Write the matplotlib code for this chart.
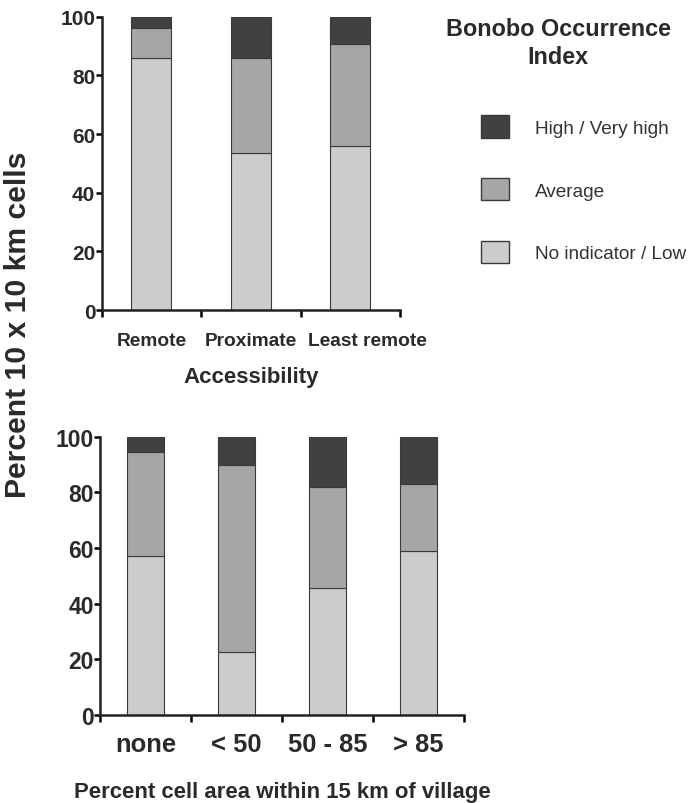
import matplotlib
matplotlib.use("Agg")
import matplotlib.pyplot as plt
import matplotlib.transforms as mtransforms
from matplotlib.patches import Patch
import numpy as np

plt.rcParams['font.family'] = ['Liberation Sans', 'DejaVu Sans']

# top panel: accessibility
access_cats = ["Remote", "Proximate", "Least remote"]
access_low = [86.0, 53.5, 55.8]
access_avg = [10.2, 32.3, 35.0]
access_high = [3.8, 14.2, 9.2]

# bottom panel: village cover
village_cats = ["none", "< 50", "50 - 85", "> 85"]
village_low = [57.2, 22.5, 45.5, 59.0]
village_avg = [37.2, 67.4, 36.3, 24.1]
village_high = [5.6, 10.1, 18.2, 16.9]

legend_labels = ["High / Very high", "Average", "No indicator / Low"]

c_low = "#cbcccd"
c_avg = "#a5a6a8"
c_high = "#404242"
edge = "#3a3a3a"
txt = "#2a2a2a"


def stacked(ax, cats, low, avg, high, width, tick_fs, label_fs, pad):
    x = np.arange(len(cats))
    low = np.array(low)
    avg = np.array(avg)
    high = np.array(high)
    ax.bar(x, low, width, color=c_low, edgecolor=edge, linewidth=0.8)
    ax.bar(x, avg, width, bottom=low, color=c_avg, edgecolor=edge, linewidth=0.8)
    ax.bar(x, high, width, bottom=low + avg, color=c_high, edgecolor=edge, linewidth=0.8)
    ax.set_xlim(-0.5, len(cats) - 0.5)
    ax.set_ylim(0, 100)
    ax.set_yticks([0, 20, 40, 60, 80, 100])
    ax.set_xticks(x)
    ax.set_xticklabels(cats, fontsize=label_fs, fontweight='bold', color=txt)
    ax.set_xticks(np.arange(len(cats) + 1) - 0.5, minor=True)
    ax.tick_params(axis='x', which='major', length=0, pad=pad)
    ax.tick_params(axis='x', which='minor', length=5, width=1.8, direction='out')
    ax.tick_params(axis='y', length=4, width=1.8, labelsize=tick_fs, pad=0.5)
    for t in ax.get_yticklabels():
        t.set_fontweight('bold')
        t.set_color(txt)
    for s in ['top', 'right']:
        ax.spines[s].set_visible(False)
    for s in ['left', 'bottom']:
        ax.spines[s].set_linewidth(1.8)
        ax.spines[s].set_color("#222222")


fig = plt.figure(figsize=(6.91, 8.04), dpi=100)

ax1 = fig.add_axes([0.147, 0.613, 0.432, 0.365])
stacked(ax1, access_cats, access_low, access_avg, access_high, 0.4, 15, 13.8, 16)
ax1.set_xlabel("Accessibility", fontsize=16, fontweight='bold', color=txt, labelpad=12)
# last label sits a little right of its bar in the original
lab = ax1.get_xticklabels()[2]
lab.set_transform(lab.get_transform() +
                  mtransforms.ScaledTranslation(0.17, 0, fig.dpi_scale_trans))

ax2 = fig.add_axes([0.1447, 0.1095, 0.527, 0.346])
stacked(ax2, village_cats, village_low, village_avg, village_high, 0.41, 16.5, 18.4, 12)
ax2.set_xlabel("Percent cell area within 15 km of village", fontsize=15.9,
               fontweight='bold', color=txt, labelpad=18.5)

fig.text(0.0265, 0.596, "Percent 10 x 10 km cells", rotation=90, fontsize=21.7,
         fontweight='bold', color=txt, ha='center', va='center')

handles = [Patch(facecolor=c_high, edgecolor=edge),
           Patch(facecolor=c_avg, edgecolor=edge),
           Patch(facecolor=c_low, edgecolor=edge)]
leg = fig.legend(handles, legend_labels, loc='upper left', bbox_to_anchor=(0.6825, 0.867),
                 frameon=False, fontsize=13.7, handlelength=1.48, handleheight=1.43,
                 labelspacing=2.12, handletextpad=1.37, borderpad=0)
for t in leg.get_texts():
    t.set_color("#333333")
fig.text(0.808, 0.946, "Bonobo Occurrence\nIndex", ha='center', va='center',
         fontsize=16.8, fontweight='bold', color=txt, linespacing=1.3)

fig.savefig("out.png", dpi=100, facecolor='white')
